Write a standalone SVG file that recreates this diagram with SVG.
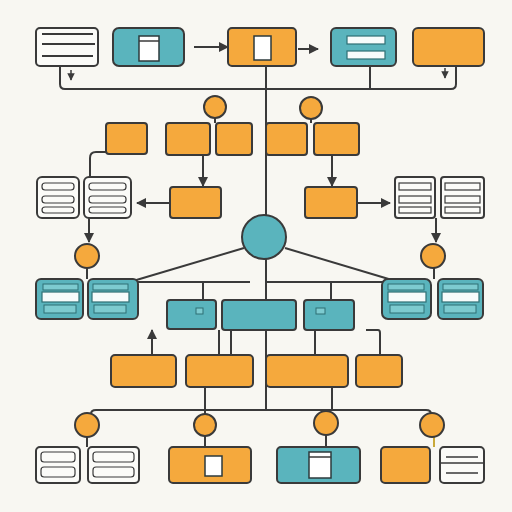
<svg xmlns="http://www.w3.org/2000/svg" width="512" height="512" viewBox="0 0 512 512">
<defs>
<style>
.o{fill:#f5a93d;stroke:#3a3a3a;stroke-width:2}
.t{fill:#5ab4bd;stroke:#3a3a3a;stroke-width:2}
.w{fill:#fbfbf8;stroke:#3a3a3a;stroke-width:2}
.ln{stroke:#3a3a3a;stroke-width:2;fill:none}
.th{stroke:#3a3a3a;stroke-width:1.5;fill:none}
.bar{fill:none;stroke:#3a3a3a;stroke-width:1.2}
.wd{fill:#fff;stroke:#2c3a3c;stroke-width:1.5}
.ws{fill:#f6fbfb;stroke:#2e6f74;stroke-width:1.2}
.lt{fill:#7dcbd0;stroke:#2e6f74;stroke-width:1}
</style>
<marker id="a" viewBox="0 0 10 10" refX="9" refY="5" markerWidth="5" markerHeight="5" orient="auto"><path d="M0,0L10,5L0,10z" fill="#3a3a3a"/></marker>
</defs>
<rect width="512" height="512" fill="#f8f7f2"/>
<g id="connectors">
<path class="ln" d="M60,66V84Q60,89 65,89H451Q456,89 456,84V66"/>
<path class="ln" d="M370,66V89"/>
<path class="ln" d="M266,66V410"/>
<path class="th" d="M71,70V80" marker-end="url(#a)"/>
<path class="th" d="M445,68V78" marker-end="url(#a)"/>
<path class="ln" d="M194,47H228" marker-end="url(#a)"/>
<path class="ln" d="M298,49H318" marker-end="url(#a)"/>
<path class="ln" d="M215,118V123"/>
<path class="ln" d="M311,119V123"/>
<path class="ln" d="M203,155V186" marker-end="url(#a)"/>
<path class="ln" d="M332,155V186" marker-end="url(#a)"/>
<path class="ln" d="M106,152H96Q90,152 90,158V176"/>
<path class="ln" d="M170,203H137" marker-end="url(#a)"/>
<path class="ln" d="M357,203H390" marker-end="url(#a)"/>
<path class="ln" d="M89,218V242" marker-end="url(#a)"/>
<path class="ln" d="M436,218V242" marker-end="url(#a)"/>
<path class="ln" d="M87,268V279"/>
<path class="ln" d="M434,268V279"/>
<path class="ln" d="M244,248L133,281"/>
<path class="ln" d="M285,248L392,280"/>
<path class="ln" d="M138,282H250"/>
<path class="ln" d="M266,282H385"/>
<path class="ln" d="M203,282V300"/>
<path class="ln" d="M331,282V300"/>
<path class="ln" d="M152,340V330" marker-end="url(#a)"/>
<path class="ln" d="M152,340V355"/>
<path class="ln" d="M219,330V355M231,330V355"/>
<path class="ln" d="M315,330V355"/>
<path class="ln" d="M366,330H378Q380,330 380,333V355"/>
<path class="ln" d="M91,414Q91,410 96,410H426Q431,410 431,414"/>
<path class="ln" d="M205,387V414"/>
<path class="ln" d="M332,387V410"/>
<path class="ln" d="M87,437V447"/>
<path class="ln" d="M205,436V447"/>
<path class="ln" d="M326,435V447"/>
<path d="M434,437V447" stroke="#c9a93a" stroke-width="2"/>
</g>
<g id="top1"><rect class="w" x="36" y="28" width="62" height="38" rx="4"/><path class="ln" d="M42,34H93M42,44H95M42,56H93"/></g>
<g id="top2"><rect class="t" x="113" y="28" width="71" height="38" rx="6"/><rect class="wd" x="139" y="36" width="20" height="25"/><path class="th" d="M139,41H159"/></g>
<g id="top3"><rect class="o" x="228" y="28" width="68" height="38" rx="4"/><rect class="wd" x="254" y="36" width="17" height="24"/></g>
<g id="top4"><rect class="t" x="331" y="28" width="65" height="38" rx="5"/><rect class="ws" x="347" y="36" width="38" height="8"/><rect class="ws" x="347" y="51" width="38" height="8"/></g>
<g id="top5"><rect class="o" x="413" y="28" width="71" height="38" rx="5"/></g>
<g id="c1"><circle class="o" cx="215" cy="107" r="11"/></g>
<g id="c2"><circle class="o" cx="311" cy="108" r="11"/></g>
<g id="r2a"><rect class="o" x="106" y="123" width="41" height="31" rx="3"/></g>
<g id="r2b"><rect class="o" x="166" y="123" width="44" height="32" rx="3"/></g>
<g id="r2c"><rect class="o" x="216" y="123" width="36" height="32" rx="3"/></g>
<g id="r2d"><rect class="o" x="266" y="123" width="41" height="32" rx="3"/></g>
<g id="r2e"><rect class="o" x="314" y="123" width="45" height="32" rx="3"/></g>
<g id="r3a"><rect class="o" x="170" y="187" width="51" height="31" rx="3"/></g>
<g id="r3b"><rect class="o" x="305" y="187" width="52" height="31" rx="3"/></g>
<g id="l3a"><rect class="w" x="37" y="177" width="42" height="41" rx="5"/><rect class="bar" x="42" y="183" width="32" height="7" rx="3"/><rect class="bar" x="42" y="196" width="32" height="7" rx="3"/><rect class="bar" x="42" y="207" width="32" height="6" rx="3"/></g>
<g id="l3b"><rect class="w" x="84" y="177" width="47" height="41" rx="5"/><rect class="bar" x="89" y="183" width="37" height="7" rx="3"/><rect class="bar" x="89" y="196" width="37" height="7" rx="3"/><rect class="bar" x="89" y="207" width="37" height="6" rx="3"/></g>
<g id="l3c"><rect class="w" x="395" y="177" width="40" height="41" rx="3"/><rect class="bar" x="399" y="183" width="32" height="7"/><rect class="bar" x="399" y="196" width="32" height="7"/><rect class="bar" x="399" y="207" width="32" height="6"/></g>
<g id="l3d"><rect class="w" x="441" y="177" width="43" height="41" rx="3"/><rect class="bar" x="445" y="183" width="35" height="7"/><rect class="bar" x="445" y="196" width="35" height="7"/><rect class="bar" x="445" y="207" width="35" height="6"/></g>
<g id="c3"><circle class="o" cx="87" cy="256" r="12"/></g>
<g id="c4"><circle class="o" cx="433" cy="256" r="12"/></g>
<g id="hub"><circle class="t" cx="264" cy="237" r="22"/></g>
<g id="t4a"><rect class="t" x="36" y="279" width="47" height="40" rx="5"/><rect class="lt" x="43" y="284" width="35" height="6"/><rect class="ws" x="42" y="292" width="37" height="10"/><rect class="lt" x="44" y="305" width="32" height="8"/></g>
<g id="t4b"><rect class="t" x="88" y="279" width="50" height="40" rx="5"/><rect class="lt" x="93" y="284" width="35" height="6"/><rect class="ws" x="92" y="292" width="37" height="10"/><rect class="lt" x="94" y="305" width="32" height="8"/></g>
<g id="t4c"><rect class="t" x="382" y="279" width="49" height="40" rx="6"/><rect class="lt" x="388" y="284" width="36" height="6"/><rect class="ws" x="388" y="292" width="38" height="10"/><rect class="lt" x="390" y="305" width="34" height="8"/></g>
<g id="t4d"><rect class="t" x="438" y="279" width="45" height="40" rx="5"/><rect class="lt" x="443" y="284" width="35" height="6"/><rect class="ws" x="442" y="292" width="37" height="10"/><rect class="lt" x="444" y="305" width="32" height="8"/></g>
<g id="t5a"><rect class="t" x="167" y="300" width="49" height="29" rx="3"/><rect class="lt" x="196" y="308" width="7" height="6"/></g>
<g id="t5b"><rect class="t" x="222" y="300" width="74" height="30" rx="3"/></g>
<g id="t5c"><rect class="t" x="304" y="300" width="50" height="30" rx="3"/><rect class="lt" x="316" y="308" width="9" height="6"/></g>
<g id="o6a"><rect class="o" x="111" y="355" width="65" height="32" rx="4"/></g>
<g id="o6b"><rect class="o" x="186" y="355" width="67" height="32" rx="4"/></g>
<g id="o6c"><rect class="o" x="266" y="355" width="82" height="32" rx="4"/></g>
<g id="o6d"><rect class="o" x="356" y="355" width="46" height="32" rx="4"/></g>
<g id="c5"><circle class="o" cx="87" cy="425" r="12"/></g>
<g id="c6"><circle class="o" cx="205" cy="425" r="11"/></g>
<g id="c7"><circle class="o" cx="326" cy="423" r="12"/></g>
<g id="c8"><circle class="o" cx="432" cy="425" r="12"/></g>
<g id="b1"><rect class="w" x="36" y="447" width="44" height="36" rx="4"/><rect class="bar" x="41" y="452" width="34" height="10" rx="3"/><rect class="bar" x="41" y="467" width="34" height="10" rx="3"/></g>
<g id="b2"><rect class="w" x="88" y="447" width="51" height="36" rx="4"/><rect class="bar" x="93" y="452" width="41" height="10" rx="3"/><rect class="bar" x="93" y="467" width="41" height="10" rx="3"/></g>
<g id="b3"><rect class="o" x="169" y="447" width="82" height="36" rx="4"/><rect class="wd" x="205" y="456" width="17" height="20"/></g>
<g id="b4"><rect class="t" x="277" y="447" width="83" height="36" rx="4"/><rect class="wd" x="309" y="452" width="22" height="26"/><path class="th" d="M309,457H331"/></g>
<g id="b5"><rect class="o" x="381" y="447" width="49" height="36" rx="4"/></g>
<g id="b6"><rect class="w" x="440" y="447" width="44" height="36" rx="4"/><path class="th" d="M440,463H484M446,457H478M446,473H478"/></g>
</svg>
